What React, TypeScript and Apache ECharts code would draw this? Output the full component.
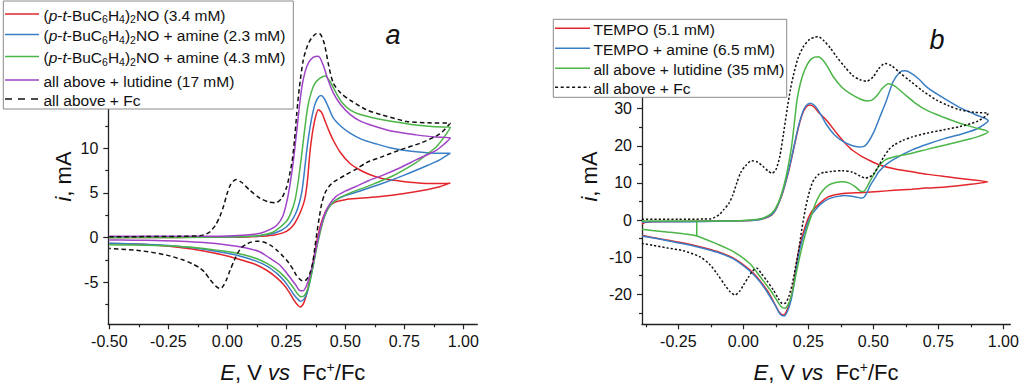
import React, { useEffect, useRef } from "react";
import * as echarts from "echarts";

type P = [number, number];

const FONT = "'Liberation Sans', Arial, Helvetica, sans-serif";
const RED = "#e3262b";
const BLUE = "#3a7ec6";
const GREEN = "#4cb548";
const PURPLE = "#a043c6";
const BLACK = "#111111";
const AXIS = "#222222";

// ---------- Panel a : (p-t-BuC6H4)2NO ----------
const aRed: P[] = [
  [-0.5, 0.02], [-0.4, 0.03], [-0.3, 0.03], [-0.2, 0.03], [-0.1, 0.04], [0.0, 0.05], [0.08, 0.08], [0.14, 0.15],
  [0.2, 0.3], [0.25, 0.7], [0.28, 1.4], [0.3, 2.3], [0.315, 3.2], [0.329, 4.4], [0.34, 6.5], [0.35, 9.5],
  [0.36, 11.6], [0.372, 13.3], [0.386, 14.3], [0.4, 14.0], [0.415, 13.0], [0.43, 12.0], [0.449, 10.9],
  [0.48, 9.5], [0.52, 8.3], [0.56, 7.6], [0.6, 7.1], [0.66, 6.6], [0.73, 6.35], [0.8, 6.15], [0.88, 6.05], [0.945, 6.1],
  [0.9, 5.7], [0.85, 5.4], [0.75, 4.95], [0.65, 4.6], [0.56, 4.4], [0.5, 4.25], [0.46, 4.0], [0.435, 3.6],
  [0.418, 3.0], [0.405, 2.2], [0.393, 1.2], [0.384, 0.2], [0.375, -1.0], [0.365, -2.5], [0.35, -4.6],
  [0.336, -6.3], [0.324, -7.3], [0.31, -7.75], [0.297, -7.5], [0.28, -6.9], [0.26, -6.0], [0.24, -5.3],
  [0.21, -4.5], [0.17, -3.7], [0.12, -3.0], [0.06, -2.5], [0.0, -2.05], [-0.1, -1.5], [-0.2, -1.1],
  [-0.3, -0.85], [-0.4, -0.72], [-0.5, -0.65],
];
const aBlue: P[] = [
  [-0.5, 0.05], [-0.3, 0.05], [-0.1, 0.06], [0.0, 0.08], [0.1, 0.15], [0.16, 0.3], [0.21, 0.6], [0.25, 1.2],
  [0.28, 2.2], [0.3, 3.4], [0.315, 5.0], [0.325, 7.0], [0.335, 9.4], [0.345, 11.4], [0.357, 13.3], [0.37, 14.8],
  [0.383, 15.6], [0.397, 15.9], [0.41, 15.6], [0.425, 14.8], [0.449, 13.4], [0.48, 12.5], [0.52, 11.7],
  [0.57, 11.0], [0.63, 10.5], [0.7, 10.0], [0.8, 9.6], [0.88, 9.45], [0.945, 9.45],
  [0.9, 8.7], [0.85, 8.1], [0.75, 7.0], [0.65, 6.0], [0.56, 5.2], [0.5, 4.7], [0.46, 4.2], [0.435, 3.6],
  [0.415, 2.6], [0.4, 1.4], [0.388, 0.2], [0.377, -1.2], [0.366, -2.8], [0.352, -4.7], [0.338, -6.2],
  [0.324, -6.9], [0.31, -7.1], [0.296, -6.8], [0.28, -6.3], [0.26, -5.5], [0.24, -4.8], [0.21, -4.0],
  [0.17, -3.2], [0.12, -2.6], [0.06, -2.1], [0.0, -1.75], [-0.1, -1.3], [-0.2, -1.0], [-0.3, -0.8],
  [-0.4, -0.7], [-0.5, -0.62],
];
const aGreen: P[] = [
  [-0.5, 0.0], [-0.3, 0.02], [-0.1, 0.05], [0.0, 0.08], [0.1, 0.15], [0.16, 0.35], [0.2, 0.7], [0.25, 1.8],
  [0.27, 2.8], [0.287, 4.2], [0.3, 6.2], [0.312, 8.6], [0.322, 10.8], [0.332, 13.0], [0.342, 14.8],
  [0.355, 16.2], [0.37, 17.2], [0.39, 17.8], [0.414, 18.1], [0.435, 17.5], [0.463, 16.1], [0.49, 15.0],
  [0.52, 14.3], [0.56, 13.8], [0.62, 13.4], [0.7, 13.0], [0.8, 12.6], [0.88, 12.4], [0.945, 12.35],
  [0.92, 11.3], [0.887, 10.2], [0.84, 9.2], [0.8, 8.4], [0.7, 6.9], [0.6, 5.8], [0.52, 5.0], [0.47, 4.4],
  [0.44, 3.7], [0.42, 2.9], [0.405, 1.8], [0.392, 0.4], [0.38, -1.0], [0.368, -2.6], [0.354, -4.4],
  [0.34, -5.8], [0.326, -6.5], [0.312, -6.6], [0.298, -6.3], [0.28, -5.6], [0.26, -4.9], [0.24, -4.3],
  [0.21, -3.6], [0.17, -2.9], [0.12, -2.3], [0.06, -1.85], [0.0, -1.55], [-0.1, -1.2], [-0.2, -0.98],
  [-0.3, -0.88], [-0.4, -0.82], [-0.5, -0.8],
];
const aPurple: P[] = [
  [-0.5, 0.15], [-0.3, 0.15], [-0.1, 0.17], [0.0, 0.2], [0.08, 0.3], [0.14, 0.5], [0.18, 0.9], [0.21, 1.4],
  [0.235, 2.4], [0.252, 4.0], [0.266, 6.0], [0.28, 8.6], [0.293, 11.6], [0.305, 14.6], [0.317, 17.0],
  [0.33, 18.6], [0.345, 19.6], [0.365, 20.2], [0.386, 20.3], [0.405, 19.4], [0.425, 17.8], [0.449, 16.2],
  [0.48, 14.9], [0.52, 13.8], [0.56, 13.1], [0.62, 12.5], [0.7, 11.9], [0.8, 11.5], [0.88, 11.25], [0.945, 11.15],
  [0.92, 10.5], [0.887, 9.8], [0.8, 8.7], [0.73, 7.8], [0.66, 7.0], [0.6, 6.4], [0.56, 5.9], [0.5, 5.2],
  [0.46, 4.6], [0.435, 3.8], [0.415, 2.8], [0.4, 1.6], [0.388, 0.3], [0.376, -1.2], [0.364, -2.7],
  [0.35, -4.2], [0.335, -5.4], [0.32, -5.95], [0.306, -5.9], [0.29, -5.3], [0.27, -4.6], [0.25, -3.9],
  [0.22, -3.0], [0.18, -2.3], [0.139, -1.6], [0.08, -1.15], [0.0, -0.82], [-0.1, -0.55], [-0.2, -0.4],
  [-0.3, -0.32], [-0.4, -0.28], [-0.5, -0.25],
];
const aFc: P[] = [
  [-0.5, 0.1], [-0.35, 0.12], [-0.2, 0.15], [-0.116, 0.22], [-0.09, 0.4], [-0.073, 0.67], [-0.05, 1.4],
  [-0.031, 2.4], [-0.015, 3.6], [0.0, 5.0], [0.015, 6.0], [0.037, 6.5], [0.06, 6.2], [0.096, 5.3],
  [0.139, 4.4], [0.175, 4.0], [0.205, 3.9], [0.23, 4.4], [0.252, 5.7], [0.265, 7.2], [0.275, 8.6],
  [0.285, 11.0], [0.294, 13.8], [0.305, 16.7], [0.322, 19.9], [0.34, 21.5], [0.356, 22.3], [0.375, 22.8],
  [0.39, 22.85], [0.41, 21.8], [0.43, 19.2], [0.449, 17.3], [0.48, 16.2], [0.52, 15.4], [0.59, 14.3],
  [0.66, 13.7], [0.76, 13.0], [0.85, 12.85], [0.944, 12.8],
  [0.9, 11.6], [0.82, 10.6], [0.73, 9.8], [0.66, 9.1], [0.59, 8.4], [0.548, 7.7], [0.5, 7.0], [0.449, 6.2],
  [0.43, 5.7], [0.414, 5.0], [0.4, 3.8], [0.39, 2.3], [0.381, 0.8], [0.372, -0.9], [0.362, -2.8],
  [0.35, -4.0], [0.335, -4.7], [0.32, -4.85], [0.305, -4.6], [0.29, -4.1], [0.28, -3.6], [0.26, -2.8],
  [0.237, -2.1], [0.21, -1.4], [0.181, -0.8], [0.15, -0.45], [0.125, -0.4], [0.1, -0.5], [0.08, -0.75],
  [0.06, -1.1], [0.045, -1.7], [0.03, -2.5], [0.011, -3.7], [-0.005, -4.8], [-0.02, -5.5], [-0.031, -5.7],
  [-0.045, -5.5], [-0.06, -5.1], [-0.073, -4.7], [-0.095, -3.9], [-0.116, -3.4], [-0.15, -2.9],
  [-0.186, -2.5], [-0.257, -1.95], [-0.37, -1.45], [-0.5, -1.2],
];

// ---------- Panel b : TEMPO ----------
const bRed: P[] = [
  [-0.39, -1.1], [-0.375, -0.6], [-0.35, -0.45], [-0.25, -0.4], [-0.1, -0.3], [0.0, -0.2], [0.05, 0.0],
  [0.08, 0.4], [0.11, 1.4], [0.125, 2.8], [0.136, 4.5], [0.15, 7.0], [0.162, 9.9], [0.175, 13.3],
  [0.187, 17.0], [0.2, 21.2], [0.213, 25.2], [0.227, 28.5], [0.24, 30.3], [0.255, 31.0], [0.27, 30.6],
  [0.29, 29.0], [0.31, 27.6], [0.328, 26.2], [0.36, 23.3], [0.392, 20.7], [0.42, 18.8], [0.457, 17.1],
  [0.49, 15.9], [0.521, 14.9], [0.58, 13.8], [0.649, 13.0], [0.71, 12.3], [0.777, 11.7], [0.86, 11.0], [0.94, 10.3],
  [0.86, 9.5], [0.777, 8.9], [0.7, 8.6], [0.649, 8.3], [0.58, 8.0], [0.521, 7.7], [0.46, 7.4], [0.392, 7.2],
  [0.36, 6.9], [0.328, 6.3], [0.3, 4.9], [0.28, 3.6], [0.264, 2.4], [0.25, 0.5], [0.238, -1.8],
  [0.225, -4.8], [0.213, -8.3], [0.203, -12.5], [0.194, -17.0], [0.183, -21.0], [0.17, -24.0],
  [0.155, -25.6], [0.14, -25.0], [0.12, -22.5], [0.105, -20.5], [0.09, -18.8], [0.06, -16.0],
  [0.026, -13.5], [-0.038, -10.3], [-0.1, -8.5], [-0.167, -7.2], [-0.23, -6.2], [-0.295, -5.4],
  [-0.35, -4.7], [-0.39, -4.1],
];
const bBlue: P[] = [
  [-0.39, -0.6], [-0.35, -0.45], [-0.25, -0.45], [-0.2, -0.45], [-0.1, -0.35], [0.0, -0.2], [0.05, 0.0],
  [0.08, 0.45], [0.11, 1.5], [0.125, 2.9], [0.136, 4.6], [0.15, 7.2], [0.162, 10.1], [0.175, 13.6],
  [0.187, 17.3], [0.2, 21.5], [0.213, 25.5], [0.227, 28.8], [0.24, 30.7], [0.258, 31.5], [0.275, 30.8],
  [0.295, 28.8], [0.321, 25.6], [0.35, 23.0], [0.385, 21.1], [0.42, 20.0], [0.445, 19.7], [0.47, 20.1],
  [0.5, 23.4], [0.526, 27.9], [0.551, 32.3], [0.577, 37.4], [0.603, 39.9], [0.622, 40.2], [0.645, 39.6],
  [0.675, 38.0], [0.705, 35.9], [0.76, 33.3], [0.833, 30.3], [0.89, 28.5], [0.942, 26.8],
  [0.9, 24.6], [0.84, 23.2], [0.777, 22.0], [0.71, 20.5], [0.649, 18.9], [0.585, 16.6], [0.55, 15.0],
  [0.521, 13.0], [0.505, 11.2], [0.489, 9.4], [0.475, 7.3], [0.465, 6.2], [0.455, 5.9], [0.44, 6.1],
  [0.41, 6.5], [0.392, 6.6], [0.36, 6.3], [0.328, 5.7], [0.3, 4.4], [0.28, 3.0], [0.264, 1.6], [0.25, -0.3],
  [0.238, -2.8], [0.225, -5.8], [0.213, -9.3], [0.203, -13.5], [0.194, -17.8], [0.183, -21.8],
  [0.17, -24.6], [0.157, -25.9], [0.142, -25.4], [0.125, -23.3], [0.105, -20.9], [0.09, -19.2],
  [0.06, -16.3], [0.026, -13.8], [-0.038, -10.5], [-0.1, -8.7], [-0.167, -7.4], [-0.23, -6.4],
  [-0.295, -5.5], [-0.35, -4.8], [-0.39, -4.3],
];
const bGreen: P[] = [
  [-0.39, -0.3], [-0.3, -0.25], [-0.18, -0.3], [-0.1, -0.25], [0.0, -0.1], [0.05, 0.15], [0.08, 0.6],
  [0.11, 1.9], [0.125, 3.3], [0.14, 5.6], [0.155, 9.0], [0.17, 13.5], [0.185, 19.5], [0.197, 26.5],
  [0.207, 32.5], [0.22, 37.0], [0.231, 39.5], [0.245, 41.8], [0.26, 43.3], [0.275, 43.9], [0.288, 44.0],
  [0.305, 43.2], [0.325, 41.2], [0.346, 38.6], [0.38, 35.7], [0.41, 34.1], [0.449, 32.6], [0.475, 32.1],
  [0.495, 32.3], [0.515, 33.6], [0.535, 35.5], [0.558, 36.7], [0.58, 36.2], [0.62, 33.9], [0.66, 31.6],
  [0.705, 29.6], [0.77, 27.7], [0.833, 26.1], [0.89, 24.9], [0.942, 23.8],
  [0.9, 22.4], [0.84, 21.3], [0.777, 20.2], [0.71, 19.1], [0.649, 18.0], [0.585, 17.1], [0.546, 16.2],
  [0.525, 14.8], [0.508, 13.0], [0.49, 10.8], [0.475, 8.8], [0.462, 7.7], [0.45, 7.8], [0.43, 9.0],
  [0.405, 10.0], [0.38, 10.3], [0.355, 10.1], [0.328, 9.4], [0.305, 7.9], [0.29, 6.3], [0.275, 4.0],
  [0.262, 1.3], [0.25, -1.2], [0.238, -4.0], [0.225, -7.5], [0.213, -11.2], [0.2, -15.5], [0.188, -19.5],
  [0.175, -22.4], [0.16, -23.8], [0.145, -23.3], [0.125, -21.2], [0.105, -19.0], [0.09, -17.6],
  [0.06, -14.8], [0.026, -11.8], [-0.038, -8.5], [-0.1, -6.5], [-0.179, -4.3], [-0.23, -3.7],
  [-0.295, -3.2], [-0.35, -2.8], [-0.39, -2.5],
];
const bGreenStep: P[] = [[-0.179, -0.35], [-0.179, -4.3]];
const bFc: P[] = [
  [-0.39, 0.2], [-0.25, 0.2], [-0.15, 0.25], [-0.128, 0.3], [-0.11, 0.7], [-0.09, 1.6], [-0.075, 2.8],
  [-0.056, 4.4], [-0.04, 6.8], [-0.025, 10.0], [-0.01, 12.8], [0.008, 14.6], [0.033, 16.0], [0.055, 15.6],
  [0.075, 14.5], [0.095, 13.2], [0.11, 12.6], [0.125, 13.5], [0.14, 17.0], [0.154, 23.0], [0.17, 30.5],
  [0.182, 35.5], [0.192, 38.8], [0.21, 43.5], [0.231, 46.7], [0.255, 48.7], [0.275, 49.3], [0.288, 49.4],
  [0.31, 48.3], [0.335, 46.3], [0.359, 44.0], [0.39, 41.3], [0.42, 39.0], [0.449, 37.8], [0.475, 37.4],
  [0.5, 38.6], [0.52, 40.7], [0.545, 42.2], [0.57, 41.6], [0.6, 39.8], [0.641, 37.5], [0.69, 34.8],
  [0.744, 32.3], [0.79, 30.8], [0.833, 29.7], [0.89, 29.0], [0.942, 28.7],
  [0.9, 26.6], [0.833, 25.2], [0.77, 24.3], [0.705, 23.4], [0.65, 22.4], [0.615, 21.5], [0.58, 20.2],
  [0.56, 19.0], [0.54, 17.0], [0.52, 14.5], [0.5, 12.3], [0.485, 11.6], [0.47, 11.3], [0.45, 11.8],
  [0.42, 12.9], [0.38, 13.3], [0.34, 13.1], [0.31, 12.8], [0.29, 12.3], [0.275, 11.2], [0.264, 9.8],
  [0.25, 6.5], [0.238, 2.7], [0.225, -2.5], [0.213, -8.1], [0.2, -13.0], [0.188, -17.3], [0.175, -20.6],
  [0.162, -22.4], [0.15, -22.5], [0.135, -21.2], [0.115, -18.8], [0.09, -16.3], [0.07, -14.5],
  [0.052, -13.0], [0.035, -13.8], [0.02, -15.4], [0.0, -17.6], [-0.015, -19.3], [-0.032, -20.2],
  [-0.05, -19.4], [-0.07, -17.6], [-0.1, -14.6], [-0.13, -11.9], [-0.167, -9.9], [-0.23, -8.3],
  [-0.295, -7.5], [-0.35, -6.8], [-0.39, -6.3],
];

// ---------- ticks ----------
const aXLabels = [-0.5, -0.25, 0, 0.25, 0.5, 0.75, 1.0];
const aXMinor = [-0.375, -0.125, 0.125, 0.375, 0.625, 0.875];
const aYLabels = [-5, 0, 5, 10];
const aYMajor = [-5, 0, 5, 10, 15, 20, 25];
const aYMinor = [-7.5, -2.5, 2.5, 7.5, 12.5, 17.5, 22.5];
const bXLabels = [-0.25, 0, 0.25, 0.5, 0.75, 1.0];
const bXMajor = [-0.25, 0, 0.25, 0.5, 0.75, 1.0];
const bXMinor = [-0.375, -0.125, 0.125, 0.375, 0.625, 0.875];
const bYLabels = [-20, -10, 0, 10, 20, 30];
const bYMajor = [-20, -10, 0, 10, 20, 30, 40, 50];
const bYMinor = [-25, -15, -5, 5, 15, 25, 35, 45];

// ---------- legends ----------
const aLegendText = [
  "{n|(}{i|p}{n|-}{i|t}{n|-BuC}{sub|6}{n|H}{sub|4}{n|)}{sub|2}{n|NO (3.4 mM)}",
  "{n|(}{i|p}{n|-}{i|t}{n|-BuC}{sub|6}{n|H}{sub|4}{n|)}{sub|2}{n|NO + amine (2.3 mM)}",
  "{n|(}{i|p}{n|-}{i|t}{n|-BuC}{sub|6}{n|H}{sub|4}{n|)}{sub|2}{n|NO + amine (4.3 mM)}",
  "{n|all above + lutidine (17 mM)}",
  "{n|all above + Fc}",
];
const bLegendText = [
  "{n|TEMPO (5.1 mM)}",
  "{n|TEMPO + amine (6.5 mM)}",
  "{n|all above + lutidine (35 mM)}",
  "{n|all above + Fc}",
];

const LFS = 15.5;
const legendRich = {
  n: { fontSize: LFS, fontFamily: FONT, fontStyle: "normal", fill: "#111" },
  i: { fontSize: LFS, fontFamily: FONT, fontStyle: "italic", fill: "#111" },
  sub: { fontSize: 10.5, fontFamily: FONT, fill: "#111", padding: [8, 0, 0, 0] },
};
const titleRich = {
  n: { fontSize: 22, fontFamily: FONT, fill: "#111" },
  i: { fontSize: 22, fontFamily: FONT, fontStyle: "italic", fill: "#111" },
  L: { fontSize: 27, fontFamily: FONT, fontStyle: "italic", fill: "#111" },
  sup: { fontSize: 14, fontFamily: FONT, fill: "#111", padding: [0, 0, 11, 0] },
};

function xAxes(grid: number, min: number, max: number, labels: number[], major: number[], minor: number[]) {
  return [
    {
      type: "value", gridIndex: grid, position: "bottom", min, max,
      axisLine: { show: true, onZero: false, lineStyle: { color: AXIS, width: 1.3 } },
      axisTick: { show: true, inside: false, length: 5, customValues: major, lineStyle: { color: AXIS, width: 1.2 } },
      axisLabel: {
        show: true, customValues: labels, formatter: (v: number) => v.toFixed(2), margin: 9,
        fontSize: 16, fontFamily: FONT, color: "#111",
      },
      splitLine: { show: false },
    },
    {
      type: "value", gridIndex: grid, position: "bottom", min, max,
      axisLine: { show: false, onZero: false },
      axisTick: { show: true, inside: false, length: 3, customValues: minor, lineStyle: { color: AXIS, width: 1.2 } },
      axisLabel: { show: false },
      splitLine: { show: false },
    },
  ];
}
function yAxes(grid: number, min: number, max: number, labels: number[], major: number[], minor: number[]) {
  return [
    {
      type: "value", gridIndex: grid, position: "left", min, max,
      axisLine: { show: true, onZero: false, lineStyle: { color: AXIS, width: 1.3 } },
      axisTick: { show: true, inside: false, length: 5, customValues: major, lineStyle: { color: AXIS, width: 1.2 } },
      axisLabel: {
        show: true, customValues: labels, formatter: (v: number) => String(v), margin: 10,
        fontSize: 16, fontFamily: FONT, color: "#111",
      },
      splitLine: { show: false },
    },
    {
      type: "value", gridIndex: grid, position: "left", min, max,
      axisLine: { show: false, onZero: false },
      axisTick: { show: true, inside: false, length: 3, customValues: minor, lineStyle: { color: AXIS, width: 1.2 } },
      axisLabel: { show: false },
      splitLine: { show: false },
    },
  ];
}

function line(name: string, data: P[], color: string, xi: number, yi: number, dash?: number[], smooth = 0.25) {
  return {
    name, type: "line", data, xAxisIndex: xi, yAxisIndex: yi, showSymbol: false, symbol: "none",
    smooth, silent: true,
    lineStyle: { color, width: 1.5, type: dash || "solid" },
    itemStyle: { color },
  };
}

function legendGraphics(
  x0: number, y0: number, x1: number, y1: number, lx0: number, lx1: number, tx: number,
  rows: number[], texts: string[], colors: string[], dashes: (number[] | null)[]
) {
  const els: any[] = [
    {
      type: "rect", z: 100, shape: { x: x0, y: y0, width: x1 - x0, height: y1 - y0 },
      style: { fill: "#ffffff", stroke: "#8a8a8a", lineWidth: 1 },
    },
  ];
  rows.forEach((ry, k) => {
    els.push({
      type: "line", z: 101, shape: { x1: lx0, y1: ry, x2: lx1, y2: ry },
      style: { stroke: colors[k], lineWidth: 1.5, lineDash: dashes[k] || null },
    });
    els.push({
      type: "text", z: 101, x: tx, y: ry + 1,
      style: {
        text: texts[k], fontSize: LFS, fontFamily: FONT, fill: "#111",
        font: `${LFS}px ${FONT}`,
        align: "left", verticalAlign: "middle", textAlign: "left", textVerticalAlign: "middle",
        rich: legendRich,
      },
    });
  });
  return els;
}

function textEl(text: string, x: number, y: number, rotation = 0) {
  return {
    type: "text", z: 50, x, y, rotation,
    style: {
      text, fontSize: 22, fontFamily: FONT, fill: "#111", font: `22px ${FONT}`,
      align: "center", verticalAlign: "middle", textAlign: "center", textVerticalAlign: "middle",
      rich: titleRich,
    },
  };
}

export default function App() {
  const ref = useRef<HTMLDivElement>(null);
  useEffect(() => {
    if (!ref.current) return;
    const chart = echarts.init(ref.current, null, { renderer: "svg", width: 1024, height: 390 });
    const graphics = [
      ...legendGraphics(3.3, 1, 293.3, 109, 5, 39, 43.5, [14, 34.5, 56.5, 80, 99], aLegendText,
        [RED, BLUE, GREEN, PURPLE, BLACK], [null, null, null, null, [7, 6]]),
      ...legendGraphics(553.3, 19.3, 786.7, 97.3, 555, 590, 593.5, [28.3, 48.3, 68.3, 87.3], bLegendText,
        [RED, BLUE, GREEN, BLACK], [null, null, null, [3, 2.7]]),
      textEl("{i|E}{n|, V }{i|vs}{n|  Fc}{sup|+}{n|/Fc}", 292.8, 372),
      textEl("{i|E}{n|, V }{i|vs}{n|  Fc}{sup|+}{n|/Fc}", 826, 372),
      textEl("{i|i}{n|, mA}", 63.5, 176.5, Math.PI / 2),
      textEl("{i|i}{n|, mA}", 589.5, 176.5, Math.PI / 2),
      textEl("{L|a}", 393, 35),
      textEl("{L|b}", 937, 40),
    ];
    const option: any = {
      animation: false,
      backgroundColor: "#ffffff",
      grid: [
        { left: 108.3, top: 5.26, width: 369, height: 319.04 },
        { left: 642, top: 27.08, width: 368.3, height: 297.22 },
      ],
      xAxis: [
        ...xAxes(0, -0.5042, 1.0593, aXLabels, aXLabels, aXMinor),
        ...xAxes(1, -0.3896, 1.0269, bXLabels, bXMajor, bXMinor),
      ],
      yAxis: [
        ...yAxes(0, -9.69, 26, aYLabels, aYMajor, aYMinor),
        ...yAxes(1, -28.11, 52, bYLabels, bYMajor, bYMinor),
      ],
      series: [
        line("a1", aRed, RED, 0, 0),
        line("a2", aBlue, BLUE, 0, 0),
        line("a3", aGreen, GREEN, 0, 0),
        line("a4", aPurple, PURPLE, 0, 0),
        line("a5", aFc, BLACK, 0, 0, [4.5, 3]),
        line("b1", bRed, RED, 2, 2),
        line("b2", bBlue, BLUE, 2, 2),
        line("b3", bGreen, GREEN, 2, 2),
        line("b3s", bGreenStep, GREEN, 2, 2, undefined, 0),
        line("b4", bFc, BLACK, 2, 2, [2.2, 2]),
      ],
      graphic: { elements: graphics },
    };
    chart.setOption(option);
    return () => chart.dispose();
  }, []);
  return (
    <div
      ref={ref}
      style={{ position: "absolute", left: 0, top: 0, width: 1024, height: 390, background: "#fff" }}
    />
  );
}
